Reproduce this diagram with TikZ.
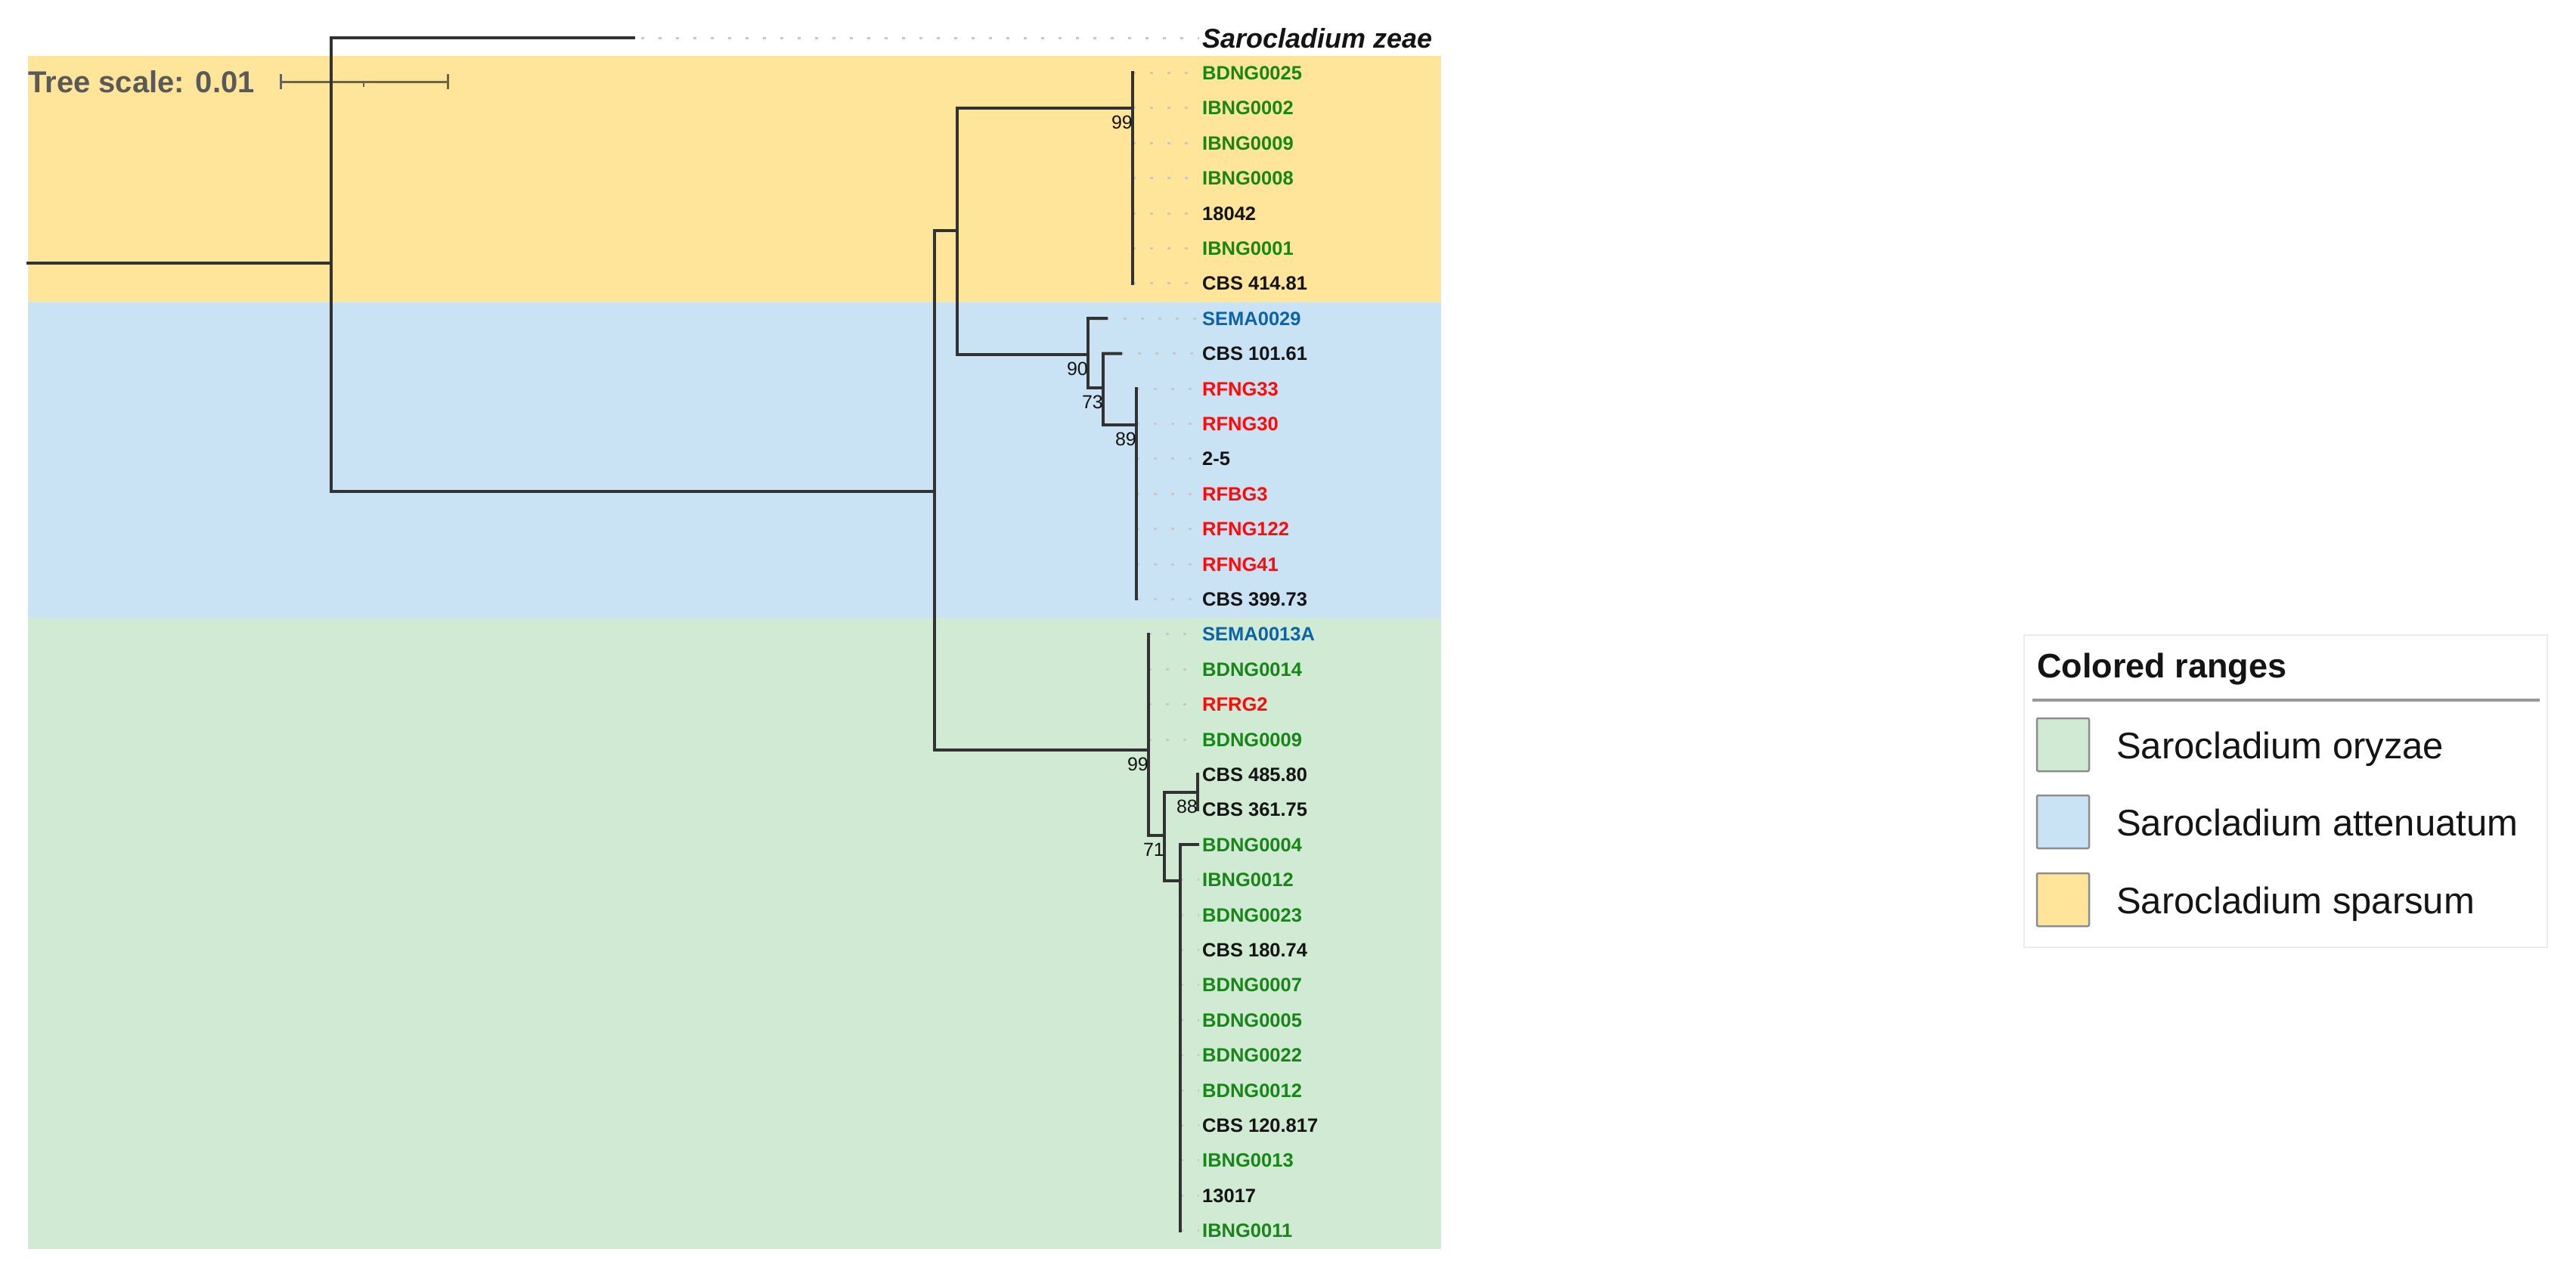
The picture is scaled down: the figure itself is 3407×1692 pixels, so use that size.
\documentclass[tikz,border=0pt]{standalone}
\usepackage{fontspec}
\setmainfont{Liberation Sans}
\definecolor{bandY}{RGB}{255,229,153}
\definecolor{bandB}{RGB}{201,226,244}
\definecolor{bandG}{RGB}{208,234,211}
\definecolor{lg}{RGB}{22,135,22}
\definecolor{lb}{RGB}{12,100,168}
\definecolor{lr}{RGB}{255,10,10}
\definecolor{lk}{RGB}{20,20,20}
\definecolor{treec}{RGB}{50,50,50}
\definecolor{dotc}{RGB}{200,200,200}
\definecolor{scalec}{RGB}{100,100,90}
\begin{document}
\begin{tikzpicture}[x=1pt,y=-1pt,
  br/.style={line width=4pt, draw=treec, line cap=rect},
  dt/.style={line width=3pt, draw=dotc, dash pattern=on 4pt off 19pt},
  leaf/.style={anchor=base west, inner sep=0pt, font=\fontsize{25.5}{30}\selectfont\bfseries},
  boot/.style={anchor=north east, inner sep=0pt, font=\fontsize{25}{30}\selectfont, text=lk},
  swatch/.style={draw=black!45, line width=2.5pt, rounded corners=2pt},
  legtext/.style={anchor=base west, inner sep=0pt, font=\fontsize{49}{56}\selectfont, text=lk},
]
\useasboundingbox (0,0) rectangle (3407,1692);
\fill[white] (0,0) rectangle (3407,1692);
% colored ranges
\fill[bandY] (37,74) rectangle (1906,400);
\fill[bandB] (37,400) rectangle (1906,817);
\fill[bandG] (37,817) rectangle (1906,1652);

% tree scale
\node[anchor=base west, inner sep=0pt, text=black!65, font=\fontsize{40}{48}\selectfont\bfseries] (ts) at (37,122) {Tree scale: 0.01};
\coordinate (sa) at (371,108);
\coordinate (sb) at (592,108);
\draw[draw=scalec, line width=3pt] (sa) -- (sb);
\draw[draw=scalec, line width=3pt] ([yshift=-10pt]sa) -- ([yshift=10pt]sa);
\draw[draw=scalec, line width=3pt] ([yshift=-10pt]sb) -- ([yshift=10pt]sb);
\draw[draw=scalec, line width=2pt] (481,108) -- (481,115);

% leaves
\node[anchor=base west, inner sep=0pt, text=lk, font=\fontsize{36}{42}\selectfont\bfseries\itshape] (l1) at (1590,63) {Sarocladium zeae};
\foreach \i/\t/\c/\tx in {
  2/BDNG0025/lg/1498, 3/IBNG0002/lg/1498, 4/IBNG0009/lg/1498, 5/IBNG0008/lg/1498,
  6/18042/lk/1498, 7/IBNG0001/lg/1498, 8/CBS 414.81/lk/1498,
  9/SEMA0029/lb/1463, 10/CBS 101.61/lk/1482,
  11/RFNG33/lr/1503, 12/RFNG30/lr/1503, 13/2-5/lk/1503, 14/RFBG3/lr/1503,
  15/RFNG122/lr/1503, 16/RFNG41/lr/1503, 17/CBS 399.73/lk/1503,
  18/SEMA0013A/lb/1519, 19/BDNG0014/lg/1519, 20/RFRG2/lr/1519, 21/BDNG0009/lg/1519,
  22/CBS 485.80/lk/1584, 23/CBS 361.75/lk/1584, 24/BDNG0004/lg/1584,
  25/IBNG0012/lg/1561, 26/BDNG0023/lg/1561, 27/CBS 180.74/lk/1561,
  28/BDNG0007/lg/1561, 29/BDNG0005/lg/1561, 30/BDNG0022/lg/1561,
  31/BDNG0012/lg/1561, 32/CBS 120.817/lk/1561, 33/IBNG0013/lg/1561,
  34/13017/lk/1561, 35/IBNG0011/lg/1561}
{
  \pgfmathsetmacro\yy{50+(\i-1)*46.4}
  \node[leaf, text=\c] (l\i) at (1590,\yy+9) {\t};
  \coordinate (t\i) at (\tx,\yy);
  \draw[dt, shorten >=4pt] (t\i) -- (t\i -| l\i.west);
}
% zeae branch
\coordinate (n0) at (438,50);
\coordinate (z1) at (838,50);
\draw[dt, shorten <=10pt, shorten >=4pt] (z1) -- (z1 -| l1.west);

% internal nodes
\coordinate (r0) at (37,348);
\coordinate (r1) at (438,348);
\coordinate (r2) at (438,650);
\coordinate (a0) at (1236,650);
\coordinate (a1) at (1236,305);
\coordinate (a2) at (1236,992);
\coordinate (b0) at (1266,305);
\coordinate (b1) at (1266,143);
\coordinate (b2) at (1266,469);
\coordinate (s0) at (1498,143);
\coordinate (c0) at (1439,469);
\coordinate (c1) at (1439,421.2);
\coordinate (c2) at (1439,513);
\coordinate (d0) at (1459,513);
\coordinate (d1) at (1459,467.6);
\coordinate (d2) at (1459,562);
\coordinate (e0) at (1503,562);
\coordinate (o0) at (1519,992);
\coordinate (o1) at (1519,1105);
\coordinate (f0) at (1540,1105);
\coordinate (f1) at (1540,1048);
\coordinate (f2) at (1540,1165);
\coordinate (g0) at (1584,1048);
\coordinate (h0) at (1561,1165);

\draw[br] (r0) -- (r1);
\draw[br] (n0) -- (z1);
\draw[br] (n0) -- (r2) -- (a0);
\draw[br] (a1) -- (a2);
\draw[br] (a1) -- (b0);
\draw[br] (a2) -- (o0);
\draw[br] (b1) -- (b2);
\draw[br] (b1) -- (s0);
\draw[br] (t2) -- (t8);
\draw[br] (b2) -- (c0);
\draw[br] (c1) -- (c2);
\draw[br] (c1) -- (t9);
\draw[br] (c2) -- (d0);
\draw[br] (d1) -- (d2);
\draw[br] (d1) -- (t10);
\draw[br] (d2) -- (e0);
\draw[br] (t11) -- (t17);
\draw[br] (t18) -- (o1);
\draw[br] (o1) -- (f0);
\draw[br] (f1) -- (f2);
\draw[br] (f1) -- (g0);
\draw[br] (t22) -- (t23);
\draw[br] (f2) -- (h0);
\draw[br] (h0 |- t24) -- (t35);
\draw[br] (h0 |- t24) -- (t24);

% bootstrap values
\node[boot] (bs1) at ([yshift=-10pt]s0) {99};
\node[boot] (bs2) at ([yshift=-10pt]c0) {90};
\node[boot] (bs3) at ([yshift=-10pt]d0) {73};
\node[boot] (bs4) at ([yshift=-10pt]e0) {89};
\node[boot] (bs5) at ([yshift=-10pt]o0) {99};
\node[boot] (bs6) at ([yshift=-10pt]g0) {88};
\node[boot] (bs7) at ([yshift=-10pt]f0) {71};

% legend
\draw[draw=black!8, line width=2pt, fill=white] (2677,840) rectangle (3369,1253);
\node[anchor=base west, inner sep=0pt, text=lk, font=\fontsize{45}{52}\selectfont\bfseries] (lt) at (2694,896) {Colored ranges};
\draw[draw=black!40, line width=4pt] (2688,926) -- (3359,926);
\draw[swatch, fill=bandG] (2694,950) rectangle (2763,1020);
\draw[swatch, fill=bandB] (2694,1052) rectangle (2763,1122);
\draw[swatch, fill=bandY] (2694,1155) rectangle (2763,1225);
\node[legtext] (lg1) at (2799,1003) {Sarocladium oryzae};
\node[legtext] (lg2) at (2799,1105) {Sarocladium attenuatum};
\node[legtext] (lg3) at (2799,1208) {Sarocladium sparsum};
\end{tikzpicture}
\end{document}
